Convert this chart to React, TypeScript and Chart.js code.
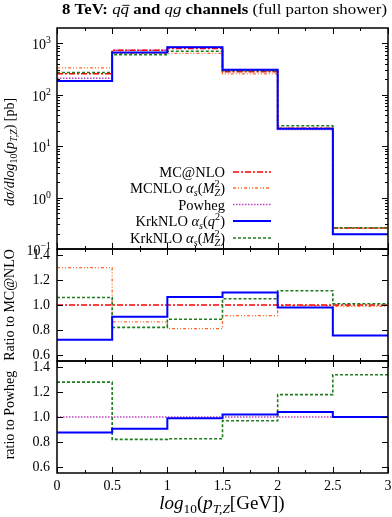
import React, { useEffect, useRef } from "react";
import { Chart, registerables } from "chart.js";
Chart.register(...registerables);

// ---------------- data ----------------
const binEdges = [0, 0.5, 1, 1.5, 2, 2.5, 3];
const xMajorTicks = [0, 0.5, 1, 1.5, 2, 2.5, 3];
const xTickLabels = ["0", "0.5", "1", "1.5", "2", "2.5", "3"];
const xMinorTicks = [0.25, 0.75, 1.25, 1.75, 2.25, 2.75];
const logTickExponents = [3, 2, 1, 0, -1];
const ratioTicks = [0.6, 0.8, 1.0, 1.2, 1.4];
const ratioTickLabels = ["0.6", "0.8", "1.0", "1.2", "1.4"];

// dσ/dlog10(pT,Z) [pb]
const mcAtNlo = [258, 740, 795, 280, 22.5, 0.255];
const mcnloAsMz = [335, 640, 644, 256, 22.4, 0.253];
const powheg = [211, 740, 855, 302, 21.2, 0.193];
const krkAsQ2 = [186, 670, 847, 308, 22.0, 0.193];
const krkAsMz = [272, 607, 704, 294, 25.0, 0.26];

// ratio to MC@NLO
const rMcAtNloToMc = [1, 1, 1, 1, 1, 1];
const rMcnloAsMzToMc = [1.3, 0.865, 0.81, 0.915, 0.995, 0.99];
const rKrkAsQ2ToMc = [0.72, 0.905, 1.065, 1.1, 0.98, 0.755];
const rKrkAsMzToMc = [1.06, 0.82, 0.885, 1.05, 1.115, 1.01];

// ratio to Powheg
const rPowhegToPowheg = [1, 1, 1, 1, 1, 1];
const rKrkAsQ2ToPowheg = [0.875, 0.905, 0.99, 1.02, 1.04, 1.0];
const rKrkAsMzToPowheg = [1.28, 0.82, 0.825, 0.97, 1.18, 1.34];

// ---------------- styles ----------------
const W = 392;
const H = 517;
const SERIF = '"Liberation Serif", "Times New Roman", serif';
const PANELS = [
  { top: 28, bottom: 249 },
  { top: 249, bottom: 361 },
  { top: 361, bottom: 473 },
];
const PLOT_LEFT = 57;
const PLOT_RIGHT = 388;

const STY = {
  mc: { color: "#ff0000", width: 1.5, dash: [6, 2, 2, 2] },
  mcnlo: { color: "#ff6a2a", width: 1.3, dash: [3, 2, 1, 2, 1, 2] },
  powheg: { color: "#c040c0", width: 1.5, dash: [1.5, 1.5] },
  krkq: { color: "#0000ff", width: 2, dash: [] as number[] },
  krkm: { color: "#1e7d1e", width: 1.6, dash: [3, 2] },
};

// ---------------- rich text ----------------
type Seg = { t: string; f?: string; s?: "sup" | "sub"; st?: boolean; bar?: boolean };

function fontOf(f: string | undefined, size: number) {
  const it = f && f.includes("i") ? "italic " : "";
  const b = f && f.includes("b") ? "bold " : "";
  return `${it}${b}${size}px ${SERIF}`;
}

function drawRich(
  ctx: CanvasRenderingContext2D,
  segs: Seg[],
  size: number,
  x: number,
  y: number,
  align: "left" | "center" | "right",
  color = "#000",
  fitWidth = 0
) {
  let cx = 0;
  let prevStart = 0;
  let prevW = 0;
  const items: any[] = [];
  for (const s of segs) {
    const sz = s.s ? size * 0.7 : size;
    ctx.font = fontOf(s.f, sz);
    const w = ctx.measureText(s.t).width;
    let sx: number;
    if (s.st) {
      sx = prevStart;
      const nw = Math.max(prevW, w);
      cx = prevStart + nw;
      prevW = nw;
    } else {
      sx = cx;
      cx += w;
      prevStart = sx;
      prevW = w;
    }
    const dy = s.s === "sup" ? -size * 0.42 : s.s === "sub" ? size * 0.22 : 0;
    items.push({ ...s, sx, sz, w, dy });
  }
  const k = fitWidth > 0 ? fitWidth / cx : 1;
  const width = cx * k;
  const x0 = align === "left" ? x : align === "center" ? x - width / 2 : x - width;
  ctx.save();
  ctx.translate(x0, y);
  ctx.scale(k, 1);
  ctx.fillStyle = color;
  ctx.textAlign = "left";
  ctx.textBaseline = "alphabetic";
  for (const it of items) {
    ctx.font = fontOf(it.f, it.sz);
    ctx.fillText(it.t, it.sx, it.dy);
    if (it.bar) {
      ctx.strokeStyle = color;
      ctx.lineWidth = 0.9;
      ctx.beginPath();
      const by = -size * 0.6;
      ctx.moveTo(it.sx + 1.5, by);
      ctx.lineTo(it.sx + it.w + 0.5, by);
      ctx.stroke();
    }
  }
  ctx.restore();
  return width;
}

function drawRotated(ctx: CanvasRenderingContext2D, segs: Seg[], size: number, cx: number, cy: number) {
  ctx.save();
  ctx.translate(cx, cy);
  ctx.rotate(-Math.PI / 2);
  drawRich(ctx, segs, size, 0, size * 0.35, "center");
  ctx.restore();
}

// ---------------- helpers ----------------
function steps(vals: number[]) {
  return binEdges.map((e, i) => ({ x: e, y: vals[Math.min(i, vals.length - 1)] }));
}

function ds(vals: number[], st: { color: string; width: number; dash: number[] }) {
  return {
    data: steps(vals),
    borderColor: st.color,
    borderWidth: st.width,
    borderDash: st.dash,
    stepped: "before" as const,
    pointRadius: 0,
    fill: false,
    tension: 0,
  };
}

function line(ctx: CanvasRenderingContext2D, x1: number, y1: number, x2: number, y2: number) {
  ctx.beginPath();
  ctx.moveTo(x1, y1);
  ctx.lineTo(x2, y2);
  ctx.stroke();
}

function legendSample(ctx: CanvasRenderingContext2D, y: number, st: { color: string; width: number; dash: number[] }) {
  ctx.save();
  ctx.strokeStyle = st.color;
  ctx.lineWidth = st.width;
  ctx.setLineDash(st.dash);
  line(ctx, 233, y, 271, y);
  ctx.restore();
}

const LEGEND: { segs: Seg[]; st: any; y: number }[] = [
  { segs: [{ t: "MC@NLO" }], st: STY.mc, y: 172 },
  {
    segs: [
      { t: "MCNLO " },
      { t: "α", f: "i" },
      { t: "s", f: "i", s: "sub" },
      { t: "(" },
      { t: "M", f: "i" },
      { t: "2", s: "sup" },
      { t: "Z", f: "i", s: "sub", st: true },
      { t: ")" },
    ],
    st: STY.mcnlo,
    y: 188,
  },
  { segs: [{ t: "Powheg" }], st: STY.powheg, y: 204.5 },
  {
    segs: [
      { t: "KrkNLO " },
      { t: "α", f: "i" },
      { t: "s", f: "i", s: "sub" },
      { t: "(" },
      { t: "q", f: "i" },
      { t: "2", s: "sup" },
      { t: ")" },
    ],
    st: STY.krkq,
    y: 221,
  },
  {
    segs: [
      { t: "KrkNLO " },
      { t: "α", f: "i" },
      { t: "s", f: "i", s: "sub" },
      { t: "(" },
      { t: "M", f: "i" },
      { t: "2", s: "sup" },
      { t: "Z", f: "i", s: "sub", st: true },
      { t: ")" },
    ],
    st: STY.krkm,
    y: 238,
  },
];

function framePlugin(panel: number) {
  return {
    id: "frame" + panel,
    afterDatasetsDraw(chart: any) {
      const ctx: CanvasRenderingContext2D = chart.ctx;
      const a = chart.chartArea;
      const xs = chart.scales.x;
      const ys = chart.scales.y;
      ctx.save();
      ctx.strokeStyle = "#000";
      ctx.lineWidth = 1;
      // x ticks (inward, top and bottom)
      for (const v of xMajorTicks) {
        const px = Math.round(xs.getPixelForValue(v)) + 0.5;
        line(ctx, px, a.top, px, a.top + 6);
        line(ctx, px, a.bottom, px, a.bottom - 6);
      }
      for (const v of xMinorTicks) {
        const px = Math.round(xs.getPixelForValue(v)) + 0.5;
        line(ctx, px, a.top, px, a.top + 3);
        line(ctx, px, a.bottom, px, a.bottom - 3);
      }
      // y ticks and labels
      ctx.fillStyle = "#000";
      if (panel === 0) {
        for (const e of logTickExponents) {
          const py = Math.round(ys.getPixelForValue(Math.pow(10, e))) + 0.5;
          line(ctx, a.left, py, a.left + 6, py);
          line(ctx, a.right, py, a.right - 6, py);
          drawRich(
            ctx,
            [{ t: "10" }, { t: e < 0 ? "−" + Math.abs(e) : String(e), s: "sup" }],
            14,
            a.left - 6,
            py + 5,
            "right"
          );
          if (e < 3) {
            for (let m = 2; m <= 9; m++) {
              const v = m * Math.pow(10, e);
              const pm = Math.round(ys.getPixelForValue(v)) + 0.5;
              line(ctx, a.left, pm, a.left + 3, pm);
              line(ctx, a.right, pm, a.right - 3, pm);
            }
          }
        }
        // legend
        for (const L of LEGEND) {
          drawRich(ctx, L.segs, 14.5, 225, L.y + 5, "right");
          legendSample(ctx, L.y, L.st);
        }
        // title
        drawRich(
          ctx,
          [
            { t: "8 TeV: ", f: "b" },
            { t: "q", f: "i" },
            { t: "q", f: "i", bar: true },
            { t: " and ", f: "b" },
            { t: "qg", f: "i" },
            { t: " channels ", f: "b" },
            { t: "(full parton shower)" },
          ],
          14.5,
          224.5,
          14,
          "center",
          "#000",
          325
        );
        drawRotated(
          ctx,
          [
            { t: "dσ/dlog", f: "i" },
            { t: "10", s: "sub" },
            { t: "(" },
            { t: "p", f: "i" },
            { t: "T,Z", f: "i", s: "sub" },
            { t: ") [pb]" },
          ],
          14,
          9,
          152
        );
      } else {
        for (let i = 0; i < ratioTicks.length; i++) {
          const py = Math.round(ys.getPixelForValue(ratioTicks[i])) + 0.5;
          line(ctx, a.left, py, a.left + 6, py);
          line(ctx, a.right, py, a.right - 6, py);
          ctx.font = `14px ${SERIF}`;
          ctx.textAlign = "right";
          ctx.textBaseline = "middle";
          ctx.fillText(ratioTickLabels[i], a.left - 7, py);
        }
        if (panel === 1) {
          drawRotated(ctx, [{ t: "Ratio to MC@NLO" }], 14, 9, 305);
        } else {
          drawRotated(ctx, [{ t: "ratio to Powheg" }], 14, 9, 415);
          ctx.font = `14px ${SERIF}`;
          ctx.textAlign = "center";
          ctx.textBaseline = "middle";
          for (let i = 0; i < xMajorTicks.length; i++) {
            ctx.fillText(xTickLabels[i], xs.getPixelForValue(xMajorTicks[i]), a.bottom + 13);
          }
          drawRich(
            ctx,
            [
              { t: "log", f: "i" },
              { t: "10", s: "sub" },
              { t: "(" },
              { t: "p", f: "i" },
              { t: "T,Z", f: "i", s: "sub" },
              { t: "[GeV])" },
            ],
            19,
            222,
            509,
            "center"
          );
        }
      }
      // frame
      ctx.lineWidth = 1.5;
      ctx.strokeStyle = "#000";
      ctx.strokeRect(a.left, a.top, a.right - a.left, a.bottom - a.top);
      ctx.restore();
    },
  };
}

function makeChart(canvas: HTMLCanvasElement, panel: number) {
  const p = PANELS[panel];
  let datasets: any[];
  let yScale: any;
  if (panel === 0) {
    datasets = [
      ds(krkAsQ2, STY.krkq),
      ds(krkAsMz, STY.krkm),
      ds(mcAtNlo, STY.mc),
      ds(mcnloAsMz, STY.mcnlo),
      ds(powheg, STY.powheg),
    ];
    yScale = { type: "logarithmic", min: 0.1, max: 2000, display: false };
  } else if (panel === 1) {
    datasets = [
      ds(rKrkAsQ2ToMc, STY.krkq),
      ds(rKrkAsMzToMc, STY.krkm),
      ds(rMcAtNloToMc, STY.mc),
      ds(rMcnloAsMzToMc, STY.mcnlo),
    ];
    yScale = { type: "linear", min: 0.55, max: 1.45, display: false };
  } else {
    datasets = [
      ds(rKrkAsQ2ToPowheg, STY.krkq),
      ds(rKrkAsMzToPowheg, STY.krkm),
      ds(rPowhegToPowheg, STY.powheg),
    ];
    yScale = { type: "linear", min: 0.55, max: 1.45, display: false };
  }
  return new Chart(canvas, {
    type: "line",
    data: { datasets },
    options: {
      responsive: false,
      animation: false,
      devicePixelRatio: 1,
      layout: {
        padding: { left: PLOT_LEFT, right: W - PLOT_RIGHT, top: p.top, bottom: H - p.bottom },
      },
      scales: {
        x: { type: "linear", min: 0, max: 3, display: false },
        y: yScale,
      },
      plugins: { legend: { display: false }, tooltip: { enabled: false }, title: { display: false } },
      events: [],
    },
    plugins: [framePlugin(panel)],
  } as any);
}

export default function App() {
  const r0 = useRef<HTMLCanvasElement>(null);
  const r1 = useRef<HTMLCanvasElement>(null);
  const r2 = useRef<HTMLCanvasElement>(null);
  useEffect(() => {
    const charts = [makeChart(r0.current!, 0), makeChart(r1.current!, 1), makeChart(r2.current!, 2)];
    return () => charts.forEach((c) => c.destroy());
  }, []);
  const cs: React.CSSProperties = { position: "absolute", left: 0, top: 0, width: W, height: H };
  return (
    <div style={{ position: "absolute", left: 0, top: 0, width: W, height: H, background: "#fff" }}>
      <canvas ref={r0} width={W} height={H} style={cs} />
      <canvas ref={r1} width={W} height={H} style={cs} />
      <canvas ref={r2} width={W} height={H} style={cs} />
    </div>
  );
}
